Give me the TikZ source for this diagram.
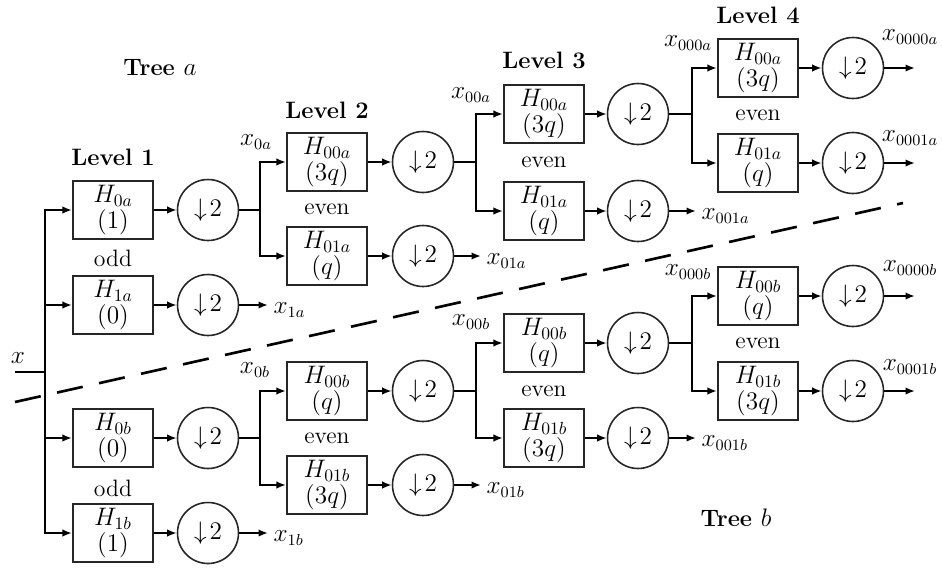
\documentclass[tikz,border=0pt]{standalone}
\usepackage{amsmath}
\usetikzlibrary{arrows.meta}

\tikzset{
  filt/.style={draw=black!85, line width=1.2pt, minimum width=1.6cm, minimum height=1.16cm,
    inner sep=1pt, align=center, font=\fontsize{14}{15}\selectfont},
  dec/.style={circle, draw=black!85, line width=0.9pt, minimum size=1.22cm, inner sep=0pt,
    font=\fontsize{15}{15}\selectfont},
  conn/.style={line width=1.1pt},
  arr/.style={conn, -{Latex[length=1.9mm,width=1.5mm]}},
  lvl/.style={font=\fontsize{13.5}{13.5}\selectfont\bfseries},
  par/.style={font=\fontsize{13.5}{13.5}\selectfont},
  sig/.style={font=\fontsize{13.5}{13.5}\selectfont, inner sep=1pt},
}

\begin{document}
\begin{tikzpicture}[x=0.02cm, y=-0.02cm]
\useasboundingbox (0,0) rectangle (942,569);

\node[lvl] (tra) at (160,68) {Tree $a$};
\node[lvl] (trb) at (736,518) {Tree $b$};
\node[lvl] (lv1) at (113,157) {Level 1};
\node[lvl] (lv2) at (327,110) {Level 2};
\node[lvl] (lv3) at (544,60) {Level 3};
\node[lvl] (lv4) at (758,15) {Level 4};

% level 1
\node[filt] (h1a0) at (113,210) {$H_{0a}$\\$(1)$};
\node[filt] (h1a1) at (113,305) {$H_{1a}$\\$(0)$};
\node[filt] (h1b0) at (113,438) {$H_{0b}$\\$(0)$};
\node[filt] (h1b1) at (113,533) {$H_{1b}$\\$(1)$};
\node[dec] (d1a0) at (208,210) {$\downarrow\!2$};
\node[dec] (d1a1) at (208,305) {$\downarrow\!2$};
\node[dec] (d1b0) at (208,438) {$\downarrow\!2$};
\node[dec] (d1b1) at (208,533) {$\downarrow\!2$};
\node[par] (od1a) at (113,258) {odd};
\node[par] (od1b) at (113,488) {odd};

% level 2
\node[filt] (h2a0) at (327,162) {$H_{00a}$\\$(3q)$};
\node[filt] (h2a1) at (327,256) {$H_{01a}$\\$(q)$};
\node[filt] (h2b0) at (327,391) {$H_{00b}$\\$(q)$};
\node[filt] (h2b1) at (327,485) {$H_{01b}$\\$(3q)$};
\node[dec] (d2a0) at (423,162) {$\downarrow\!2$};
\node[dec] (d2a1) at (423,256) {$\downarrow\!2$};
\node[dec] (d2b0) at (423,391) {$\downarrow\!2$};
\node[dec] (d2b1) at (423,485) {$\downarrow\!2$};
\node[par] (ev2a) at (327,209) {even};
\node[par] (ev2b) at (327,438) {even};

% level 3
\node[filt] (h3a0) at (544,114) {$H_{00a}$\\$(3q)$};
\node[filt] (h3a1) at (544,211) {$H_{01a}$\\$(q)$};
\node[filt] (h3b0) at (544,343) {$H_{00b}$\\$(q)$};
\node[filt] (h3b1) at (544,438) {$H_{01b}$\\$(3q)$};
\node[dec] (d3a0) at (638,114) {$\downarrow\!2$};
\node[dec] (d3a1) at (638,211) {$\downarrow\!2$};
\node[dec] (d3b0) at (638,343) {$\downarrow\!2$};
\node[dec] (d3b1) at (638,438) {$\downarrow\!2$};
\node[par] (ev3a) at (544,162) {even};
\node[par] (ev3b) at (544,391) {even};

% level 4
\node[filt] (h4a0) at (758,68) {$H_{00a}$\\$(3q)$};
\node[filt] (h4a1) at (758,163) {$H_{01a}$\\$(q)$};
\node[filt] (h4b0) at (758,296) {$H_{00b}$\\$(q)$};
\node[filt] (h4b1) at (758,391) {$H_{01b}$\\$(3q)$};
\node[dec] (d4a0) at (853,68) {$\downarrow\!2$};
\node[dec] (d4a1) at (853,163) {$\downarrow\!2$};
\node[dec] (d4b0) at (853,296) {$\downarrow\!2$};
\node[dec] (d4b1) at (853,391) {$\downarrow\!2$};
\node[par] (ev4a) at (758,115) {even};
\node[par] (ev4b) at (758,343) {even};

% split points
\coordinate (in) at (15,372);
\coordinate (s1) at (45,372);
\coordinate (s2a) at (260,210);
\coordinate (s2b) at (260,438);
\coordinate (s3a) at (476,162);
\coordinate (s3b) at (476,391);
\coordinate (s4a) at (692,114);
\coordinate (s4b) at (692,343);

\node[sig] (lx) at (18,358) {$x$};
\node[sig] (lx0a) at (256,142) {$x_{0a}$};
\node[sig] (lx0b) at (255,370) {$x_{0b}$};
\node[sig] (lx00a) at (471,95) {$x_{00a}$};
\node[sig] (lx00b) at (471,322) {$x_{00b}$};
\node[sig] (lx000a) at (688,43) {$x_{000a}$};
\node[sig] (lx000b) at (688,272) {$x_{000b}$};

\draw[conn] (in) -- (s1);
\foreach \t in {h1a0,h1a1,h1b0,h1b1} \draw[arr] (s1) |- (\t);

\draw[conn] (d1a0) -- (s2a);
\draw[arr] (s2a) |- (h2a0);
\draw[arr] (s2a) |- (h2a1);
\draw[conn] (d1b0) -- (s2b);
\draw[arr] (s2b) |- (h2b0);
\draw[arr] (s2b) |- (h2b1);

\draw[conn] (d2a0) -- (s3a);
\draw[arr] (s3a) |- (h3a0);
\draw[arr] (s3a) |- (h3a1);
\draw[conn] (d2b0) -- (s3b);
\draw[arr] (s3b) |- (h3b0);
\draw[arr] (s3b) |- (h3b1);

\draw[conn] (d3a0) -- (s4a);
\draw[arr] (s4a) |- (h4a0);
\draw[arr] (s4a) |- (h4a1);
\draw[conn] (d3b0) -- (s4b);
\draw[arr] (s4b) |- (h4b0);
\draw[arr] (s4b) |- (h4b1);

\foreach \l in {1,2,3,4}
  \foreach \t in {a0,a1,b0,b1}
    \draw[arr] (h\l\t) -- (d\l\t);

% outputs
\coordinate (o1a) at (268,305);
\coordinate (o1b) at (268,533);
\coordinate (o2a) at (481,256);
\coordinate (o2b) at (481,485);
\coordinate (o3a) at (696,211);
\coordinate (o3b) at (696,438);
\coordinate (o4a0) at (915,68);
\coordinate (o4a1) at (915,163);
\coordinate (o4b0) at (915,296);
\coordinate (o4b1) at (915,391);
\draw[arr] (d1a1) -- (o1a);
\draw[arr] (d1b1) -- (o1b);
\draw[arr] (d2a1) -- (o2a);
\draw[arr] (d2b1) -- (o2b);
\draw[arr] (d3a1) -- (o3a);
\draw[arr] (d3b1) -- (o3b);
\draw[arr] (d4a0) -- (o4a0);
\draw[arr] (d4a1) -- (o4a1);
\draw[arr] (d4b0) -- (o4b0);
\draw[arr] (d4b1) -- (o4b1);

\node[sig, anchor=west] (lx1a) at ([xshift=2pt,yshift=-3pt]o1a) {$x_{1a}$};
\node[sig, anchor=west] (lx1b) at ([xshift=2pt,yshift=-3pt]o1b) {$x_{1b}$};
\node[sig, anchor=west] (lx01a) at ([xshift=2pt,yshift=-3pt]o2a) {$x_{01a}$};
\node[sig, anchor=west] (lx01b) at ([xshift=2pt,yshift=-3pt]o2b) {$x_{01b}$};
\node[sig, anchor=west] (lx001a) at ([xshift=2pt,yshift=-3pt]o3a) {$x_{001a}$};
\node[sig, anchor=west] (lx001b) at ([xshift=2pt,yshift=-3pt]o3b) {$x_{001b}$};
\node[sig] (lx0000a) at (910,37) {$x_{0000a}$};
\node[sig] (lx0001a) at (910,138) {$x_{0001a}$};
\node[sig] (lx0000b) at (910,268) {$x_{0000b}$};
\node[sig] (lx0001b) at (910,367) {$x_{0001b}$};

% tree separator
\coordinate (cut1) at (15,402);
\coordinate (cut2) at (903,203);
\draw[line width=1.5pt, dash pattern=on 15pt off 9.5pt] (cut1) -- (cut2);
\end{tikzpicture}
\end{document}
